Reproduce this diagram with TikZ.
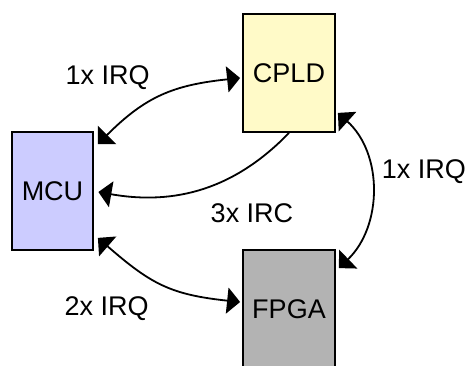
\documentclass[tikz,border=0pt]{standalone}
\usepackage{fontspec}
\setmainfont{Liberation Sans}
\usetikzlibrary{arrows.meta}

\definecolor{mcufill}{RGB}{204,204,255}
\definecolor{cpldfill}{RGB}{255,250,200}
\definecolor{fpgafill}{RGB}{179,179,179}

\tikzset{
  chip/.style={draw=black, line width=1.8pt, rectangle, inner sep=0pt,
    minimum height=118pt, font=\fontsize{27}{30}\selectfont},
  irqlabel/.style={inner sep=0pt, anchor=base, font=\fontsize{27}{30}\selectfont},
  link/.style={line width=1.8pt, draw=black},
  blk/.tip={Triangle[length=13pt, width=26pt]}
}

\begin{document}
\begin{tikzpicture}[x=1pt, y=1pt]
  \useasboundingbox (0,0) rectangle (468,365);
  \clip (0,0) rectangle (468,365);

  % the three devices
  \node[chip, fill=mcufill,  minimum width=81pt] (mcu)  at (52.5,174) {MCU};
  \node[chip, fill=cpldfill, minimum width=92pt] (cpld) at (289,292)  {CPLD};
  \node[chip, fill=fpgafill, minimum width=92pt] (fpga) at (289,56)   {FPGA};

  % interrupt lines between them
  \draw[link, blk-blk]
    ([shift={(4pt,-13pt)}]mcu.north east) to[out=45, in=186, looseness=1.1]
    ([shift={(-2pt,-5pt)}]cpld.west);
  \draw[link, -blk]
    (cpld.south) to[out=226, in=-10]
    ([shift={(4.5pt,-1pt)}]mcu.east);
  \draw[link, blk-blk]
    ([shift={(2pt,20pt)}]cpld.south east) to[out=-42, in=44]
    ([shift={(3pt,-19pt)}]fpga.north east);
  \draw[link, blk-blk]
    ([shift={(4pt,13pt)}]mcu.south east) to[out=-41, in=174, looseness=1.15]
    ([shift={(-2pt,7pt)}]fpga.west);

  % line labels
  \node[irqlabel] (l1) at (107.7,280.5) {1x IRQ};
  \node[irqlabel] (l2) at (252,143)     {3x IRC};
  \node[irqlabel] (l3) at (423.8,186.7) {1x IRQ};
  \node[irqlabel] (l4) at (106.7,50)    {2x IRQ};
\end{tikzpicture}
\end{document}
